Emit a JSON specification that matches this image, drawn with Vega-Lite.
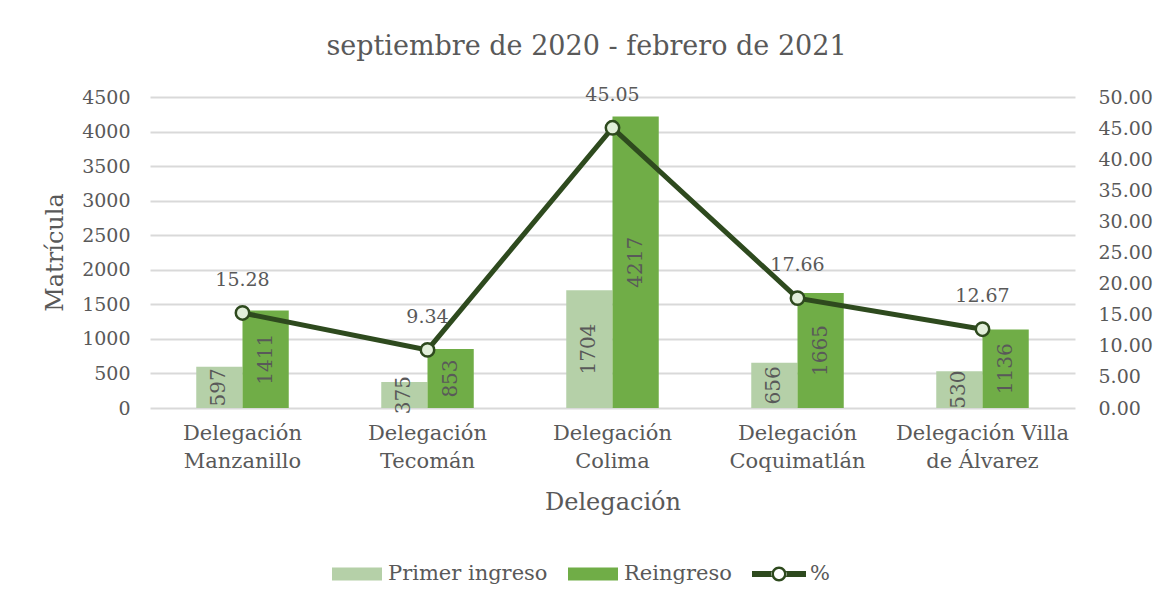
{
  "$schema": "https://vega.github.io/schema/vega-lite/v6.json",
  "width": 925,
  "height": 311,
  "autosize": {"type": "none"},
  "padding": {"left": 150, "top": 97, "right": 91, "bottom": 201},
  "background": "white",
  "config": {
    "font": "DejaVu Serif",
    "view": {"stroke": null},
    "text": {"color": "#595959"}
  },
  "title": {
    "text": "septiembre de 2020 - febrero de 2021",
    "fontSize": 27,
    "fontWeight": "normal",
    "color": "#595959",
    "anchor": "middle",
    "dx": -26,
    "offset": 25
  },
  "datasets": {
    "bars": [
      {"delegacion": "Delegación Manzanillo", "serie": "Primer ingreso", "valor": 597},
      {"delegacion": "Delegación Manzanillo", "serie": "Reingreso", "valor": 1411},
      {"delegacion": "Delegación Tecomán", "serie": "Primer ingreso", "valor": 375},
      {"delegacion": "Delegación Tecomán", "serie": "Reingreso", "valor": 853},
      {"delegacion": "Delegación Colima", "serie": "Primer ingreso", "valor": 1704},
      {"delegacion": "Delegación Colima", "serie": "Reingreso", "valor": 4217},
      {"delegacion": "Delegación Coquimatlán", "serie": "Primer ingreso", "valor": 656},
      {"delegacion": "Delegación Coquimatlán", "serie": "Reingreso", "valor": 1665},
      {"delegacion": "Delegación Villa de Álvarez", "serie": "Primer ingreso", "valor": 530},
      {"delegacion": "Delegación Villa de Álvarez", "serie": "Reingreso", "valor": 1136}
    ],
    "pct": [
      {"delegacion": "Delegación Manzanillo", "serie": "%", "pct": 15.28},
      {"delegacion": "Delegación Tecomán", "serie": "%", "pct": 9.34},
      {"delegacion": "Delegación Colima", "serie": "%", "pct": 45.05},
      {"delegacion": "Delegación Coquimatlán", "serie": "%", "pct": 17.66},
      {"delegacion": "Delegación Villa de Álvarez", "serie": "%", "pct": 12.67}
    ]
  },
  "encoding": {
    "x": {
      "field": "delegacion",
      "type": "nominal",
      "sort": ["Delegación Manzanillo", "Delegación Tecomán", "Delegación Colima", "Delegación Coquimatlán", "Delegación Villa de Álvarez"],
      "scale": {"paddingInner": 0, "paddingOuter": 0},
      "axis": {
        "title": "Delegación",
        "titleFontSize": 24,
        "titleFontWeight": "normal",
        "titleColor": "#595959",
        "titleBaseline": "middle",
        "titleY": 94,
        "labelFontSize": 21,
        "labelColor": "#595959",
        "labelAngle": 0,
        "labelPadding": 14,
        "labelLineHeight": 28,
        "labelLimit": 400,
        "labelOverlap": false,
        "labelExpr": "datum.label == 'Delegación Villa de Álvarez' ? ['Delegación Villa', 'de Álvarez'] : split(datum.label, ' ')",
        "domain": false,
        "ticks": false
      }
    }
  },
  "layer": [
    {
      "data": {"name": "bars"},
      "mark": {"type": "bar"},
      "encoding": {
        "xOffset": {"field": "serie", "type": "nominal", "scale": {"paddingInner": 0, "paddingOuter": 1.05}},
        "y": {
          "field": "valor",
          "type": "quantitative",
          "scale": {"domain": [0, 4500]},
          "axis": {
            "title": "Matrícula",
            "titleFontSize": 24,
            "titleFontWeight": "normal",
            "titleColor": "#595959",
            "titleX": -95,
            "titleY": 155,
            "titleBaseline": "middle",
            "titleAlign": "center",
            "values": [0, 500, 1000, 1500, 2000, 2500, 3000, 3500, 4000, 4500],
            "format": "d",
            "labelFontSize": 19,
            "labelColor": "#595959",
            "labelPadding": 20,
            "ticks": false,
            "domain": false,
            "grid": true,
            "gridColor": "#D9D9D9",
            "gridWidth": 2
          }
        },
        "color": {
          "field": "serie",
          "type": "nominal",
          "scale": {"domain": ["Primer ingreso", "Reingreso", "%"], "range": ["#B5D0A8", "#70AD47", "#2E4A1E"]},
          "legend": {
            "title": null,
            "orient": "none",
            "direction": "horizontal",
            "legendX": 182,
            "legendY": 452,
            "labelFontSize": 21,
            "labelColor": "#595959",
            "symbolSize": 2500,
            "columnPadding": 20,
            "labelOffset": 6,
            "encode": {
              "symbols": {
                "update": {
                  "shape": {"signal": "datum.value === '%' ? 'M-1.08,-0.12H-0.28V0.12H-1.08Z M0.28,-0.12H1.08V0.12H0.28Z M-0.3,0A0.3,0.3 0 1,0 0.3,0A0.3,0.3 0 1,0 -0.3,0Z M-0.2,0A0.2,0.2 0 1,1 0.2,0A0.2,0.2 0 1,1 -0.2,0Z' : 'M-1,-0.26H1V0.26H-1Z'"},
                  "fill": {"scale": "color", "field": "value"},
                  "stroke": {"value": "transparent"},
                  "strokeWidth": {"value": 0},
                  "opacity": {"value": 1}
                }
              }
            }
          }
        }
      }
    },
    {
      "data": {"name": "bars"},
      "mark": {"type": "text", "angle": 270, "align": "center", "baseline": "middle", "fontSize": 20, "color": "#595959"},
      "encoding": {
        "xOffset": {"field": "serie", "type": "nominal"},
        "y": {"field": "valor", "type": "quantitative", "scale": {"domain": [0, 9000]}, "axis": null},
        "text": {"field": "valor", "type": "quantitative", "format": "d"}
      }
    },
    {
      "data": {"name": "pct"},
      "mark": {"type": "line", "strokeWidth": 5},
      "encoding": {
        "y": {
          "field": "pct",
          "type": "quantitative",
          "scale": {"domain": [0, 50]},
          "axis": {
            "orient": "right",
            "title": null,
            "values": [0, 5, 10, 15, 20, 25, 30, 35, 40, 45, 50],
            "format": ".2f",
            "labelFontSize": 19,
            "labelColor": "#595959",
            "labelPadding": 23,
            "ticks": false,
            "domain": false,
            "grid": false
          }
        },
        "color": {"field": "serie", "type": "nominal"}
      }
    },
    {
      "data": {"name": "pct"},
      "mark": {"type": "point", "filled": true, "fill": "#E2EFDA", "stroke": "#2E4A1E", "strokeWidth": 2.5, "size": 180, "opacity": 1},
      "encoding": {
        "y": {"field": "pct", "type": "quantitative", "scale": {"domain": [0, 50]}, "axis": null}
      }
    },
    {
      "data": {"name": "pct"},
      "mark": {"type": "text", "dy": -33, "fontSize": 19, "color": "#595959", "baseline": "middle"},
      "encoding": {
        "y": {"field": "pct", "type": "quantitative", "scale": {"domain": [0, 50]}, "axis": null},
        "text": {"field": "pct", "type": "quantitative", "format": ".2f"}
      }
    }
  ],
  "resolve": {"scale": {"y": "independent"}}
}
